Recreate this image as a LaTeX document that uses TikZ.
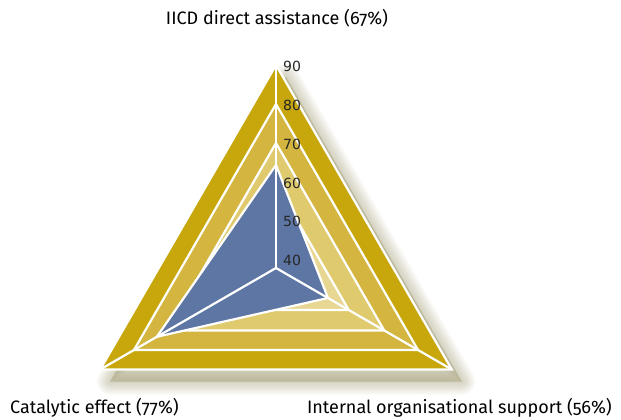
\documentclass[tikz,border=0pt]{standalone}
\usepackage{fontspec}
\setmainfont{Fira Sans}[Numbers=OldStyle]
\newfontfamily\tickfont{DejaVu Sans}
\usetikzlibrary{positioning}
\definecolor{GoldNinety}{HTML}{C7A70C}
\definecolor{GoldEighty}{HTML}{D3B53F}
\definecolor{GoldSeventy}{HTML}{DFCA6E}
\definecolor{GoldSixty}{HTML}{E8D793}
\definecolor{ScoreBlue}{HTML}{5E76A4}
\definecolor{ShadowOlive}{HTML}{938C5E}
\tikzstyle{LevelBand}=[draw=white, line width=2.2pt, line join=miter]
\tikzstyle{ScoreArea}=[draw=white, line width=2.2pt, fill=ScoreBlue, line join=miter]
\tikzstyle{AxisLine}=[draw=white, line width=2.2pt]
\tikzstyle{AxisLabel}=[inner sep=0pt, font=\fontsize{18}{21}\selectfont]
\tikzstyle{TickLabel}=[inner sep=0pt, anchor=west, text=black!85, font=\tickfont\fontsize{14}{16}\selectfont]

\begin{document}
\begin{tikzpicture}[x=1pt, y=1pt]
    \useasboundingbox (-276,-152) rectangle (345,268);

    % shadow
    \foreach \w in {26,22,18,14,10,6,2}
      \fill[ShadowOlive, opacity=0.065, draw=ShadowOlive, line width=\w pt, line join=round]
        ([shift={(10,-12)}]90:203) -- ([shift={(10,-12)}]210:203) -- ([shift={(10,-12)}]330:203) -- cycle;

    % level triangles
    \foreach \r/\col in {203/GoldNinety, 164/GoldEighty, 125/GoldSeventy, 84/GoldSixty}
      \draw[LevelBand, fill=\col] (90:\r) -- (210:\r) -- (330:\r) -- cycle;

    % scores
    \draw[ScoreArea] (90:103) -- (210:137.6) -- (330:60) -- cycle;

    \coordinate (centre) at (0,0);
    \coordinate (top) at (90:203);
    \coordinate (left) at (210:203);
    \coordinate (right) at (330:203);
    \draw[AxisLine] (centre) -- (top);
    \draw[AxisLine] (centre) -- (left);
    \draw[AxisLine] (centre) -- (right);

    \node (t90) [TickLabel] at (7,202) {90};
    \node (t80) [TickLabel] at (7,163) {80};
    \node (t70) [TickLabel] at (7,124) {70};
    \node (t60) [TickLabel] at (7,85) {60};
    \node (t50) [TickLabel] at (7,47) {50};
    \node (t40) [TickLabel] at (7,8) {40};

    \node (direct) [AxisLabel] at (1,250) {IICD direct assistance (67\%)};
    \node (catalytic) [AxisLabel, anchor=west] at (-266,-140) {Catalytic effect (77\%)};
    \node (internal) [AxisLabel, anchor=east] at (336,-140) {Internal organisational support (56\%)};
\end{tikzpicture}
\end{document}
